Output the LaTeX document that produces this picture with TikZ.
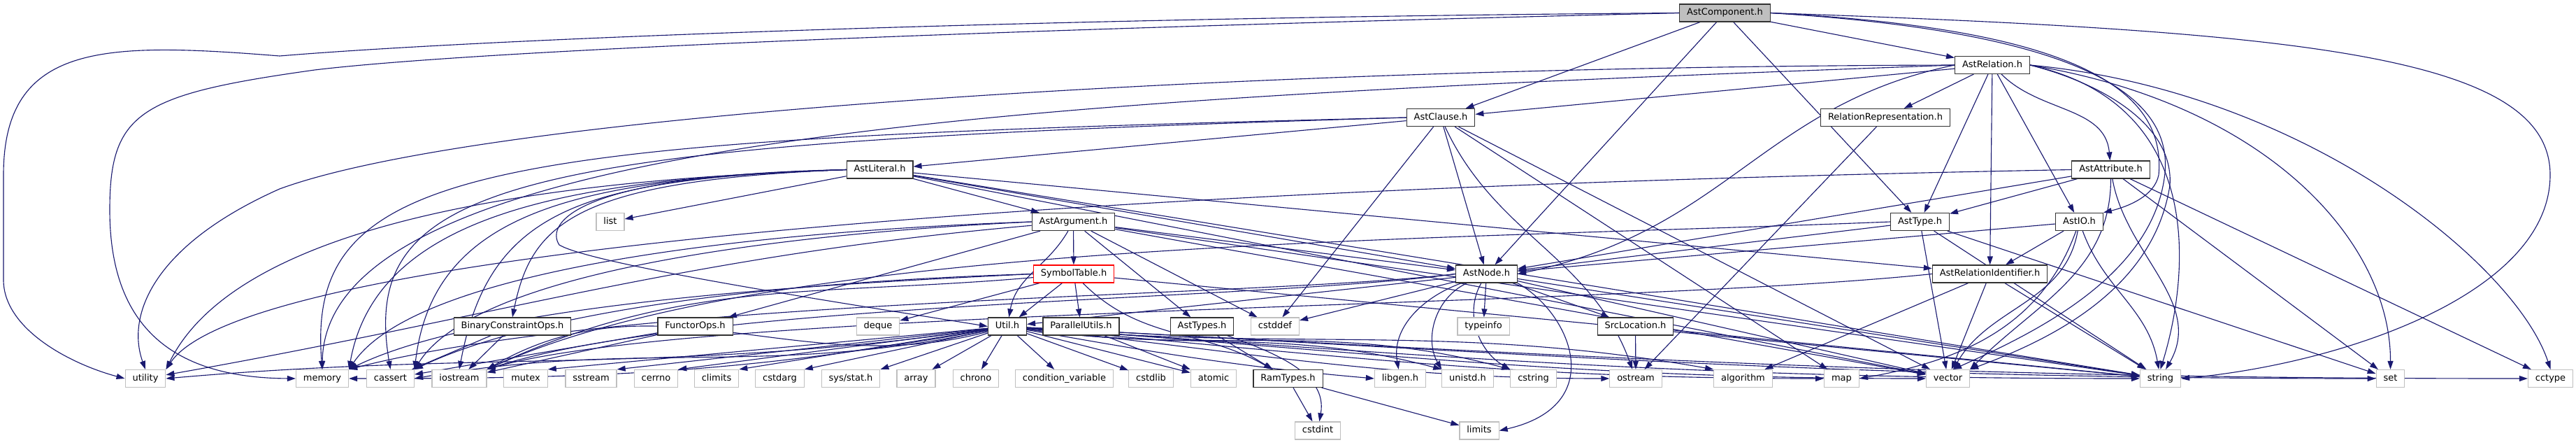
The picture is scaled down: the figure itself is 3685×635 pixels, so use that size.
\documentclass[tikz,border=0pt]{standalone}
\usepackage{fontspec}
\setmainfont{DejaVu Sans}
\usetikzlibrary{arrows.meta}
\definecolor{edgec}{HTML}{191970}
\definecolor{sysgray}{HTML}{BFBFBF}
\pgfdeclarelayer{back}
\pgfdeclarelayer{bg}
\pgfsetlayers{back,bg,main}
\tikzset{
  box/.style={draw=black!80, line width=0.3pt, fill=white, minimum height=6.25pt,
    inner xsep=2.6pt, inner ysep=0pt, text height=2.4pt, text depth=0.75pt,
    font=\fontsize{3.25}{4}\selectfont},
  sysbox/.style={box, draw=sysgray},
  rootbox/.style={box, fill=sysgray, draw=black!80},
  redbox/.style={box, draw=red},
  e/.style={draw=edgec, line width=0.28pt, -{Triangle[length=3pt,width=2pt]}},
}
\begin{document}
\begin{tikzpicture}[x=0.25pt,y=0.25pt]
\useasboundingbox (0,0) rectangle (3685,-635);
\begin{pgfonlayer}{back}
\fill[white] (0,0) rectangle (3685,-635);
\end{pgfonlayer}
% project headers
\node[rootbox] (comp) at (2467.5,-18.5) {AstComponent.h};
\node[box] (rel) at (2850,-93) {AstRelation.h};
\node[box] (clause) at (2061,-168) {AstClause.h};
\node[box] (relrep) at (2697,-168) {RelationRepresentation.h};
\node[box] (lit) at (1258.5,-242.5) {AstLiteral.h};
\node[box] (attr) at (3019.5,-242.5) {AstAttribute.h};
\node[sysbox] (list) at (873,-317) {list};
\node[box] (arg) at (1535.5,-317) {AstArgument.h};
\node[box] (type) at (2746.5,-317) {AstType.h};
\node[box] (io) at (2974.5,-317) {AstIO.h};
\node[redbox] (sym) at (1536,-391.5) {SymbolTable.h};
\node[box] (astnode) at (2126.5,-391.5) {AstNode.h};
\node[box] (relid) at (2846.5,-391.5) {AstRelationIdentifier.h};
\node[box] (bco) at (733,-466.5) {BinaryConstraintOps.h};
\node[box] (fop) at (994.5,-466.5) {FunctorOps.h};
\node[sysbox] (deque) at (1256,-466.5) {deque};
\node[box] (util) at (1441,-466.5) {Util.h};
\node[box] (par) at (1546.5,-466.5) {ParallelUtils.h};
\node[box] (types) at (1719.5,-466.5) {AstTypes.h};
\node[sysbox] (cstddef) at (1824,-466.5) {cstddef};
\node[sysbox] (typeinfo) at (2122,-466.5) {typeinfo};
\node[box] (src) at (2339.5,-466.5) {SrcLocation.h};
% bottom row
\node[sysbox] (utility) at (208,-541) {utility};
\node[sysbox] (memory) at (461,-541) {memory};
\node[sysbox] (cassert) at (558.5,-541) {cassert};
\node[sysbox] (iostream) at (657,-541) {iostream};
\node[sysbox] (mutex) at (752,-541) {mutex};
\node[sysbox] (sstream) at (845.5,-541) {sstream};
\node[sysbox] (cerrno) at (938.5,-541) {cerrno};
\node[sysbox] (climits) at (1025,-541) {climits};
\node[sysbox] (cstdarg) at (1115.5,-541) {cstdarg};
\node[sysbox] (sysstat) at (1217,-541) {sys/stat.h};
\node[sysbox] (array) at (1310.5,-541) {array};
\node[sysbox] (chrono) at (1396,-541) {chrono};
\node[sysbox] (condvar) at (1522.5,-541) {condition\_variable};
\node[sysbox] (cstdlib) at (1646.5,-541) {cstdlib};
\node[sysbox] (atomic) at (1736,-541) {atomic};
\node[box] (ramtypes) at (1842.5,-541) {RamTypes.h};
\node[sysbox] (libgen) at (2003,-541) {libgen.h};
\node[sysbox] (unistd) at (2099.5,-541) {unistd.h};
\node[sysbox] (cstring) at (2193.5,-541) {cstring};
\node[sysbox] (ostream) at (2340,-541) {ostream};
\node[sysbox] (algorithm) at (2493.5,-541) {algorithm};
\node[sysbox] (map) at (2634.5,-541) {map};
\node[sysbox] (vector) at (2786.5,-541) {vector};
\node[sysbox] (string) at (3090.5,-541) {string};
\node[sysbox] (set) at (3419.5,-541) {set};
\node[sysbox] (cctype) at (3648.5,-541) {cctype};
\node[sysbox] (cstdint) at (1885,-615.5) {cstdint};
\node[sysbox] (limits) at (2116,-615.5) {limits};

\begin{pgfonlayer}{bg}
% AstComponent.h
\draw[e] (comp) -- (clause);
\draw[e] (comp) -- (rel);
\draw[e] (comp) -- (type);
\draw[e] (comp) -- (astnode);
\draw[e] (comp.east) .. controls (2950,-40) and (3100,-120) .. (3088,-250) .. controls (3082,-280) and (3045,-295) .. (io.north east);
\draw[e] (comp.west) .. controls (1500,-25) and (700,-55) .. (400,-80) .. controls (150,-60) and (5,-60) .. (5,-250) -- (5,-400) .. controls (5,-470) and (100,-520) .. (utility.west);
\draw[e] (comp.west) .. controls (1500,-40) and (700,-70) .. (450,-100) .. controls (200,-135) and (157,-160) .. (157,-300) .. controls (157,-470) and (250,-540) .. (memory.west);
\draw[e] (comp.east) .. controls (3300,-45) and (3648,-80) .. (3648,-250) .. controls (3648,-420) and (3350,-520) .. (string.east);
\draw[e] (comp.east) .. controls (2960,-45) and (3115,-130) .. (3096,-255) .. controls (3075,-400) and (2900,-480) .. (vector.60);
% AstRelation.h
\draw[e] (rel) -- (clause);
\draw[e] (rel) -- (relrep);
\draw[e] (rel) -- (type);
\draw[e] (rel) -- (relid);
\draw[e] (rel) -- (io);
\draw[e] (rel) to[out=-45,in=95] (attr);
\draw[e] (rel.west) .. controls (2520,-150) and (2470,-330) .. (astnode.east);
\draw[e] (rel.west) .. controls (1800,-95) and (700,-160) .. (400,-270) .. controls (220,-350) and (180,-450) .. (utility.north);
\draw[e] (rel.west) .. controls (1500,-140) and (465,-190) .. (memory.north);
\draw[e] (rel.east) .. controls (3160,-150) and (3130,-400) .. (string.north);
\draw[e] (rel.east) .. controls (3010,-120) and (3110,-180) .. (3104,-265) .. controls (3080,-420) and (2920,-490) .. (vector.north east);
\draw[e] (rel.east) .. controls (3250,-150) and (3420,-350) .. (set.north);
\draw[e] (rel.east) .. controls (3300,-130) and (3600,-380) .. (cctype.north);
% AstClause.h
\draw[e] (clause) -- (lit);
\draw[e] (clause) -- (astnode);
\draw[e] (clause) -- (cstddef);
\draw[e] (clause) to[out=-65,in=110] (ostream);
\draw[e] (clause) -- (map);
\draw[e] (clause) -- (vector);
\draw[e] (clause.west) .. controls (700,-200) and (437,-230) .. (memory.north);
\draw[e] (clause.west) .. controls (750,-205) and (512,-250) .. (cassert.north);
% AstLiteral.h
\draw[e] (lit) -- (list);
\draw[e] (lit) -- (arg);
\draw[e] (lit) -- (astnode);
\draw[e] (lit) -- (relid);
\draw[e] (lit.west) .. controls (820,-258) and (760,-320) .. (bco.north);
\draw[e] (lit.west) .. controls (820,-250) and (780,-320) .. (800,-350) .. controls (850,-380) and (1250,-440) .. (util.west);
\draw[e] (lit.west) .. controls (830,-255) and (540,-300) .. (memory.north east);
\draw[e] (lit.west) .. controls (830,-255) and (620,-300) .. (cassert.north east);
\draw[e] (lit.west) .. controls (830,-255) and (700,-300) .. (iostream.north);
\draw[e] (lit.west) .. controls (850,-255) and (350,-300) .. (utility.north east);
\draw[e] (lit) -- (string);
\draw[e] (lit) -- (vector);
% AstArgument.h
\draw[e] (arg) -- (sym);
\draw[e] (arg) to[out=240,in=80] (util);
\draw[e] (arg) -- (types);
\draw[e] (arg) -- (cstddef);
\draw[e] (arg) -- (fop);
\draw[e] (arg) -- (astnode);
\draw[e] (arg.west) .. controls (1100,-330) and (600,-380) .. (memory.north east);
\draw[e] (arg.west) .. controls (1100,-335) and (680,-390) .. (cassert.north east);
\draw[e] (arg) to[out=185,in=10] (utility);
\draw[e] (arg) -- (string);
\draw[e] (arg) -- (vector);
% SymbolTable.h
\draw[e] (sym) -- (par);
\draw[e] (sym) -- (util);
\draw[e] (sym) -- (deque);
\draw[e] (sym) to[out=-45,in=150] (ramtypes);
\draw[e] (sym) to[out=185,in=25] (iostream.north east);
\draw[e] (sym.west) .. controls (1200,-400) and (800,-430) .. (cassert.north east);
\draw[e] (sym.west) .. controls (1200,-405) and (700,-430) .. (memory.north east);
\draw[e] (sym) -- (string);
% Util.h
\draw[e] (util) to[out=188,in=5] (utility.east);
\draw[e] (util) to[out=190,in=0] (memory.east);
\draw[e] (util) to[out=192,in=10] (cassert.east);
\draw[e] (util) to[out=195,in=30] (iostream.north east);
\draw[e] (util) -- (mutex.north east);
\draw[e] (util) -- (sstream.north east);
\draw[e] (util) -- (cerrno.north east);
\draw[e] (util) -- (climits.north east);
\draw[e] (util) -- (cstdarg.north east);
\draw[e] (util) -- (sysstat.north east);
\draw[e] (util) -- (array);
\draw[e] (util) -- (chrono);
\draw[e] (util) -- (condvar);
\draw[e] (util) -- (cstdlib);
\draw[e] (util) -- (atomic);
\draw[e] (util) to[out=-10,in=175] (libgen.west);
\draw[e] (util) to[out=-8,in=165] (unistd.north west);
\draw[e] (util) to[out=-8,in=165] (cstring.north west);
\draw[e] (util) to[out=-6,in=180] (ostream.west);
\draw[e] (util) to[out=-5,in=170] (algorithm.north west);
\draw[e] (util) to[out=-5,in=180] (map.west);
\draw[e] (util) to[out=-4,in=180] (vector.west);
\draw[e] (util) to[out=-4,in=180] (string.west);
\draw[e] (util) to[out=-3,in=180] (set.west);
\draw[e] (util) to[out=-3,in=180] (cctype.west);
% AstNode.h
\draw[e] (astnode) -- (typeinfo);
\draw[e] (astnode) -- (src);
\draw[e] (astnode) -- (util);
\draw[e] (astnode) to[out=200,in=100] (libgen);
\draw[e] (astnode) to[out=205,in=120] (unistd.north west);
\draw[e] (astnode) to[out=240,in=150] (cstring.north west);
\draw[e] (astnode.south east) .. controls (2250,-450) and (2300,-580) .. (limits.east);
\draw[e] (astnode) -- (cstddef);
\draw[e] (astnode.west) .. controls (1800,-430) and (1000,-430) .. (iostream.north east);
\draw[e] (astnode.west) .. controls (1800,-425) and (900,-425) .. (memory.north east);
\draw[e] (astnode) -- (string);
\draw[e] (astnode) -- (vector);
% AstType.h
\draw[e] (type) -- (astnode);
\draw[e] (type) -- (vector);
\draw[e] (type) -- (string);
\draw[e] (type) -- (set);
\draw[e] (type.west) .. controls (2000,-345) and (1100,-345) .. (iostream.north east);
% AstAttribute.h
\draw[e] (attr) -- (type);
\draw[e] (attr) -- (astnode);
\draw[e] (attr) to[out=-80,in=60] (string);
\draw[e] (attr) to[out=-90,in=45] (vector.north east);
\draw[e] (attr) -- (set);
\draw[e] (attr) -- (cctype);
\draw[e] (attr.west) .. controls (1500,-270) and (350,-360) .. (utility.north east);
% AstIO.h
\draw[e] (io) -- (astnode);
\draw[e] (io) -- (relid);
\draw[e] (io) to[out=-110,in=10] (map.east);
\draw[e] (io) to[out=-100,in=60] (vector);
\draw[e] (io) to[out=-70,in=100] (string);
% AstRelationIdentifier.h
\draw[e] (relid) -- (algorithm);
\draw[e] (relid) -- (vector);
\draw[e] (relid) -- (string);
\draw[e] (relid.west) .. controls (2300,-440) and (1000,-440) .. (iostream.north east);
% others
\draw[e] (src) -- (ostream);
\draw[e] (src) -- (string);
\draw[e] (relrep) -- (ostream);
\draw[e] (bco) -- (iostream);
\draw[e] (bco) -- (cassert);
\draw[e] (fop) -- (iostream);
\draw[e] (fop) -- (cassert);
\draw[e] (par) -- (atomic);
\draw[e] (types) -- (ramtypes);
\draw[e] (types) to[out=-20,in=80] (cstdint);
\draw[e] (ramtypes) -- (cstdint);
\draw[e] (ramtypes) -- (limits);
\end{pgfonlayer}
\end{tikzpicture}
\end{document}
